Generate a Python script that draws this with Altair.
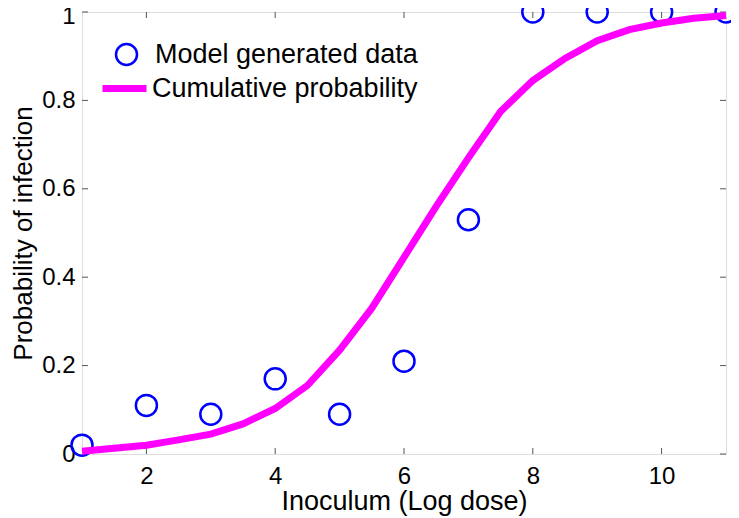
import altair as alt
import pandas as pd

# Observed (model generated) data
dose_points = [1, 2, 3, 4, 5, 6, 7, 8, 9, 10, 11]
prob_points = [0.02, 0.11, 0.09, 0.17, 0.09, 0.21, 0.53, 1.0, 1.0, 1.0, 1.0]

# Cumulative probability curve
dose_curve = [1, 1.5, 2, 2.5, 3, 3.5, 4, 4.5, 5, 5.5, 6, 6.5, 7, 7.5, 8, 8.5, 9, 9.5, 10, 10.5, 11]
prob_curve = [0.006, 0.013, 0.02, 0.032, 0.045, 0.068, 0.103, 0.155, 0.235, 0.33, 0.445,
              0.56, 0.67, 0.775, 0.845, 0.895, 0.935, 0.96, 0.975, 0.986, 0.992]

x_ticks = [2, 4, 6, 8, 10]
y_ticks = [0, 0.2, 0.4, 0.6, 0.8, 1]

W, H = 644, 442
FONT = "Liberation Sans"
FRAME = "#555555"

pts = pd.DataFrame({"dose": dose_points, "prob": prob_points,
                    "series": ["Model generated data"] * len(dose_points)})
crv = pd.DataFrame({"dose": dose_curve, "prob": prob_curve,
                    "series": ["Cumulative probability"] * len(dose_curve)})
xt = pd.DataFrame({"t": x_ticks})
yt = pd.DataFrame({"t": y_ticks})

xscale = alt.Scale(domain=[1, 11], nice=False, zero=False)
yscale = alt.Scale(domain=[0, 1], nice=False, zero=False)

xaxis = alt.Axis(values=x_ticks, title="Inoculum (Log dose)", grid=False, domain=False,
                 ticks=False, tickSize=0, labelFontSize=24, labelPadding=29,
                 labelBaseline="alphabetic", titleFontSize=27, titleFontWeight="normal",
                 titleBaseline="alphabetic", titleY=55, labelColor="black", titleColor="black",
                 labelFont=FONT, titleFont=FONT, format="~g")
yaxis = alt.Axis(values=y_ticks, title="Probability of infection", grid=False, domain=False,
                 ticks=False, tickSize=0, labelFontSize=24, labelPadding=7,
                 labelOffset={"condition": {"test": "datum.value == 1", "value": 4}, "value": 0},
                 titleFontSize=26, titleFontWeight="normal", titleBaseline="alphabetic",
                 titleX=-51, labelColor="black", titleColor="black",
                 labelFont=FONT, titleFont=FONT, format="~g")

points = alt.Chart(pts).mark_point(filled=False, size=441, strokeWidth=2.5, opacity=1).encode(
    x=alt.X("dose:Q", scale=xscale, axis=xaxis),
    y=alt.Y("prob:Q", scale=yscale, axis=yaxis),
    color=alt.Color("series:N",
                    scale=alt.Scale(domain=["Model generated data"], range=["#0000ff"]),
                    legend=alt.Legend(title=None, orient="none", legendX=31, legendY=29,
                                      symbolType="circle", symbolSize=441,
                                      symbolStrokeWidth=2.5, labelFontSize=27,
                                      labelFont=FONT, labelColor="black", labelLimit=0,
                                      labelOffset=15, padding=0)),
)

curve = alt.Chart(crv).mark_line(strokeWidth=7).encode(
    x=alt.X("dose:Q", scale=xscale),
    y=alt.Y("prob:Q", scale=yscale),
    color=alt.Color("series:N",
                    scale=alt.Scale(domain=["Cumulative probability"], range=["#ff00ff"]),
                    legend=alt.Legend(title=None, orient="none", legendX=17, legendY=51,
                                      symbolType="stroke", symbolSize=1936,
                                      symbolStrokeWidth=7, labelFontSize=27,
                                      labelFont=FONT, labelColor="black", labelLimit=0,
                                      labelOffset=2, padding=0)),
)

tick_style = dict(color=FRAME, strokeWidth=1)
bottom_ticks = alt.Chart(xt).mark_rule(**tick_style).encode(
    x=alt.X("t:Q", scale=xscale), y=alt.value(H), y2=alt.value(H - 6))
top_ticks = alt.Chart(xt).mark_rule(**tick_style).encode(
    x=alt.X("t:Q", scale=xscale), y=alt.value(0), y2=alt.value(6))
left_ticks = alt.Chart(yt).mark_rule(**tick_style).encode(
    y=alt.Y("t:Q", scale=yscale), x=alt.value(0), x2=alt.value(6))
right_ticks = alt.Chart(yt).mark_rule(**tick_style).encode(
    y=alt.Y("t:Q", scale=yscale), x=alt.value(W), x2=alt.value(W - 6))

chart = alt.layer(bottom_ticks, top_ticks, left_ticks, right_ticks, points, curve).resolve_scale(
    color="independent"
).properties(
    width=W, height=H,
    autosize=alt.AutoSizeParams(type="none"),
    padding={"left": 74, "top": 4, "right": 5, "bottom": 64},
).configure_view(
    stroke=FRAME, strokeWidth=1
).configure(font=FONT)

chart.save("out.html", embed_options={"renderer": "svg", "actions": False})
